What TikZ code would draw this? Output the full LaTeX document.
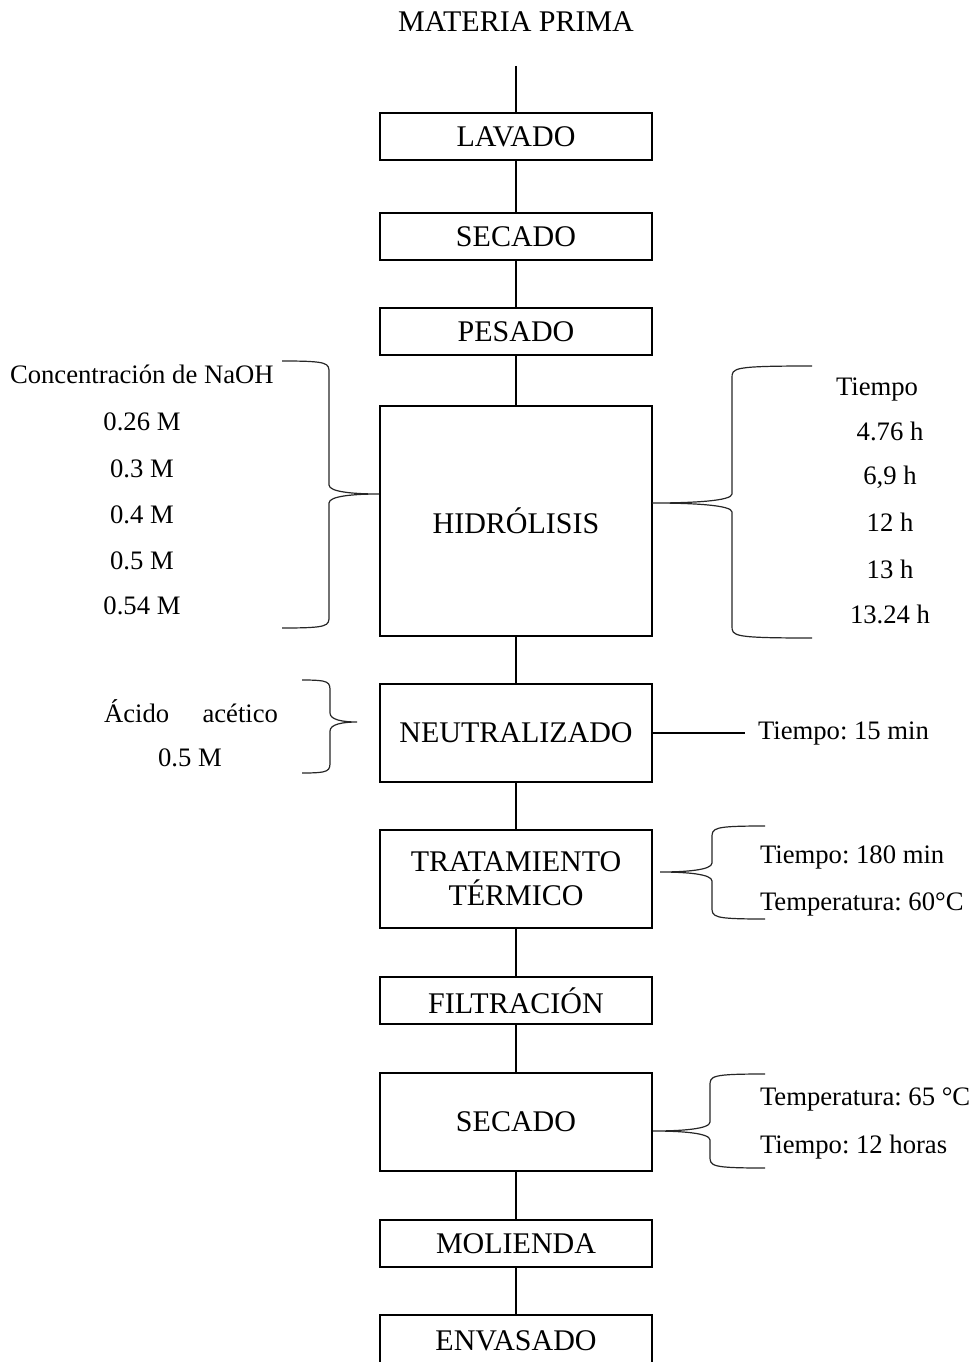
\documentclass[tikz,border=0pt]{standalone}
\usepackage{fontspec}
\setmainfont{Liberation Serif}
\frenchspacing
\begin{document}
\begin{tikzpicture}[x=0.75pt,y=-0.75pt,
  every node/.style={font=\fontsize{20}{24}\selectfont, inner sep=0pt, outer sep=0pt},
  box/.style={draw, line width=1.5pt, minimum width=204pt, align=center, font=\fontsize{22.5}{26}\selectfont},
  conn/.style={line width=1.2pt},
  brc/.style={line width=0.9pt, draw=black!85},
  lft/.style={anchor=west}]
\clip (0,0) rectangle (974,1362);
\newcommand{\mybrace}[6]{%
  \draw[brc] (#1,#4) .. controls ({#2},{#4}) and ({#2},{#4+2}) .. ({#2},{#4+12})
    -- ({#2},{#5-9}) .. controls ({#2},{#5-2}) and ({(#2+#3)/2},{#5}) .. ({#3},{#5})
    .. controls ({(#2+#3)/2},{#5}) and ({#2},{#5+2}) .. ({#2},{#5+9})
    -- ({#2},{#6-12}) .. controls ({#2},{#6-2}) and ({#2},{#6}) .. (#1,#6);}

\node[font=\fontsize{22.5}{26}\selectfont] (mp) at (516,22) {MATERIA PRIMA};
\coordinate (mpend) at (516,66);
\node[box, minimum height=35.25pt] (lav) at (516,136.5) {LAVADO};
\node[box, minimum height=35.25pt] (sec1) at (516,236.5) {SECADO};
\node[box, minimum height=35.25pt] (pes) at (516,331.5) {PESADO};
\node[box, minimum height=172.5pt] (hid) at (516,521) {HIDRÓLISIS};
\node[box, minimum height=73.5pt] (neu) at (516,733) {NEUTRALIZADO};
\node[box, minimum height=73.5pt] (tra) at (516,879) {TRATAMIENTO\\[-0.5pt]TÉRMICO};
\node[box, minimum height=35.25pt] (fil) at (516,1000.5) {FILTRACIÓN};
\node[box, minimum height=73.5pt] (sec2) at (516,1121.5) {SECADO};
\node[box, minimum height=35.25pt] (mol) at (516,1243.5) {MOLIENDA};
\node[box, minimum height=38pt, anchor=north] (env) at (516,1315) {ENVASADO};

\draw[conn] (mpend) -- (lav.north);
\draw[conn] (lav) -- (sec1);
\draw[conn] (sec1) -- (pes);
\draw[conn] (pes) -- (hid);
\draw[conn] (hid) -- (neu);
\draw[conn] (neu) -- (tra);
\draw[conn] (tra) -- (fil);
\draw[conn] (fil) -- (sec2);
\draw[conn] (sec2) -- (mol);
\draw[conn] (mol) -- (env);

% Hidrolisis left
\node[lft] (naoh) at (10,374) {Concentración de NaOH};
\node (c1) at (142,422) {0.26 M};
\node (c2) at (142,469) {0.3 M};
\node (c3) at (142,515) {0.4 M};
\node (c4) at (142,561) {0.5 M};
\node (c5) at (142,606) {0.54 M};
\mybrace{282}{329}{379}{361}{494}{628}

% Hidrolisis right
\node (tie) at (877,390) {Tiempo};
\node (t1) at (890,431) {4.76 h};
\node (t2) at (890,477) {6,9 h};
\node (t3) at (890,522) {12 h};
\node (t4) at (890,569) {13 h};
\node (t5) at (890,614) {13.24 h};
\mybrace{812}{732}{652}{366}{503}{638}

% Neutralizado
\node (aci) at (191,711) {\makebox[130.5pt]{Ácido\hfill acético}};
\node (acm) at (190,758) {0.5 M};
\mybrace{302}{330}{357}{680}{722}{773}
\coordinate (neuend) at (745,733);
\draw[conn] (neu.east) -- (neuend);
\node[lft] (neut) at (758,734) {Tiempo: 15 min};

% Tratamiento termico
\mybrace{765}{712}{660}{826}{872}{919}
\node[lft] (tt1) at (760,857) {Tiempo: 180 min};
\node[lft] (tt2) at (760,904) {Temperatura: 60°C};

% Secado 2
\mybrace{765}{710}{653}{1074}{1131}{1168}
\node[lft] (s1) at (760,1099) {Temperatura: 65 °C};
\node[lft] (s2) at (760,1147) {Tiempo: 12 horas};
\end{tikzpicture}
\end{document}
